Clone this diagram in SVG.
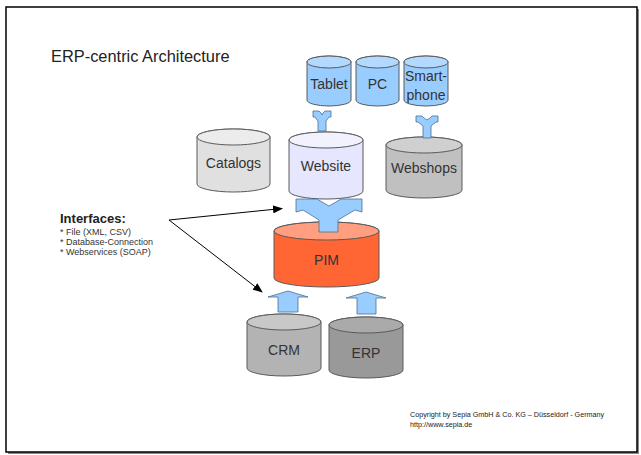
<svg xmlns="http://www.w3.org/2000/svg" width="641" height="455" viewBox="0 0 641 455">
<defs>
<style>
.cyl{stroke:#5a5a5a;stroke-width:1}
.lbl{font-family:"Liberation Sans",Arial,sans-serif;font-size:14px;fill:#333;text-anchor:middle}
.arr{fill:#99ccff;stroke:#4d6e8f;stroke-width:0.8}
.con{stroke:#000;stroke-width:1;fill:none}
.sm{font-family:"Liberation Sans",Arial,sans-serif;font-size:9px;fill:#333}
</style>
<marker id="ah" markerWidth="10" markerHeight="8" refX="9" refY="4" orient="auto" markerUnits="userSpaceOnUse">
<path d="M0,0 L10,4 L0,8 Z" fill="#000"/>
</marker>
</defs>
<rect x="0" y="0" width="641" height="455" fill="#fff"/>
<rect x="8" y="9" width="631" height="445" fill="#888"/>
<rect x="6" y="7" width="631" height="445" fill="#fff" stroke="#000" stroke-width="1.5"/>

<text x="51" y="62" font-family="Liberation Sans,Arial,sans-serif" font-size="16.4" fill="#222">ERP-centric Architecture</text>

<g id="tablet">
<path class="cyl" fill="#99ccff" d="M307,62 A22,6 0 0 1 351,62 V100 A22,6 0 0 1 307,100 Z"/>
<ellipse class="cyl" fill="#b3d9ff" cx="329" cy="62" rx="22" ry="6"/>
<text class="lbl" x="329" y="89">Tablet</text>
</g>
<g id="pc">
<path class="cyl" fill="#99ccff" d="M356,62 A21.5,6 0 0 1 399,62 V100 A21.5,6 0 0 1 356,100 Z"/>
<ellipse class="cyl" fill="#b3d9ff" cx="377.5" cy="62" rx="21.5" ry="6"/>
<text class="lbl" x="377.5" y="89">PC</text>
</g>
<g id="smartphone">
<path class="cyl" fill="#99ccff" d="M404,62 A22,6 0 0 1 448,62 V100 A22,6 0 0 1 404,100 Z"/>
<ellipse class="cyl" fill="#b3d9ff" cx="426" cy="62" rx="22" ry="6"/>
<text class="lbl" x="426" y="81">Smart-</text>
<text class="lbl" x="426" y="100">phone</text>
</g>

<g id="catalogs">
<path class="cyl" fill="#e0e0e0" d="M197,137 A36.5,8 0 0 1 270,137 V184 A36.5,8 0 0 1 197,184 Z"/>
<ellipse class="cyl" fill="#ececec" cx="233.5" cy="137" rx="36.5" ry="8"/>
<text class="lbl" x="233.5" y="168">Catalogs</text>
</g>
<g id="website">
<path class="cyl" fill="#e6e6ff" d="M289,140 A37,8 0 0 1 363,140 V191 A37,8 0 0 1 289,191 Z"/>
<ellipse class="cyl" fill="#f2f2ff" cx="326" cy="140" rx="37" ry="8"/>
<text class="lbl" x="326" y="171">Website</text>
</g>
<g id="webshops">
<path class="cyl" fill="#c0c0c0" d="M386,145 A38,8 0 0 1 462,145 V190 A38,8 0 0 1 386,190 Z"/>
<ellipse class="cyl" fill="#d0d0d0" cx="424" cy="145" rx="38" ry="8"/>
<text class="lbl" x="424" y="173">Webshops</text>
</g>

<g id="pim">
<path class="cyl" fill="#ff6633" d="M274,231 A52.5,9 0 0 1 379,231 V278 A52.5,9 0 0 1 274,278 Z"/>
<ellipse class="cyl" fill="#ff9f80" cx="326.5" cy="231" rx="52.5" ry="9"/>
<text class="lbl" x="326.5" y="265">PIM</text>
</g>

<g id="crm">
<path class="cyl" fill="#b3b3b3" d="M247,322 A37,8 0 0 1 321,322 V368 A37,8 0 0 1 247,368 Z"/>
<ellipse class="cyl" fill="#c8c8c8" cx="284" cy="322" rx="37" ry="8"/>
<text class="lbl" x="284" y="355">CRM</text>
</g>
<g id="erp">
<path class="cyl" fill="#999999" d="M329,325 A37,8 0 0 1 403,325 V370 A37,8 0 0 1 329,370 Z"/>
<ellipse class="cyl" fill="#aaaaaa" cx="366" cy="325" rx="37" ry="8"/>
<text class="lbl" x="366" y="358">ERP</text>
</g>

<g id="interfaces">
<text x="60" y="223" font-family="Liberation Sans,Arial,sans-serif" font-size="13" font-weight="bold" fill="#222">Interfaces:</text>
<text class="sm" x="60" y="235">* File (XML, CSV)</text>
<text class="sm" x="60" y="245">* Database-Connection</text>
<text class="sm" x="60" y="255">* Webservices (SOAP)</text>
</g>

<g id="copyright">
<text x="410" y="417" font-family="Liberation Sans,Arial,sans-serif" font-size="7.2" fill="#222">Copyright by Sepia GmbH &amp; Co. KG – Düsseldorf - Germany</text>
<text x="410" y="427" font-family="Liberation Sans,Arial,sans-serif" font-size="7.2" fill="#222">http://www.sepia.de</text>
</g>

<g id="connectors">
<path class="arr" d="M296,199 L317,199 L322,202 L329,206 L336,202 L341,199 L362,199 L362,212 L355,210 L338,220 L338,232 L319,232 L319,220 L303,210 L296,212 Z"/>
<path class="arr" d="M313,111 L319,111 L321,113 L322,115 L323,113 L325,111 L331,111 L331,117 L329,117 L326,121 L326,131 L318,131 L318,121 L315,117 L313,117 Z"/>
<path class="arr" d="M416,116 L422,116 L424,118 L427,120 L430,118 L432,116 L438,116 L438,122 L436,122 L431,126 L431,138 L423,138 L423,126 L418,122 L416,122 Z"/>
<path class="arr" d="M288,291 L308,297 L298,297 L298,312 L278,312 L278,297 L268,297 Z"/>
<path class="arr" d="M366,292 L386,298 L376,298 L376,314 L357,314 L357,298 L346,298 Z"/>
<line class="con" x1="169" y1="220" x2="282" y2="208.5" marker-end="url(#ah)"/>
<line class="con" x1="169" y1="220" x2="262" y2="292" marker-end="url(#ah)"/>
</g>
</svg>
